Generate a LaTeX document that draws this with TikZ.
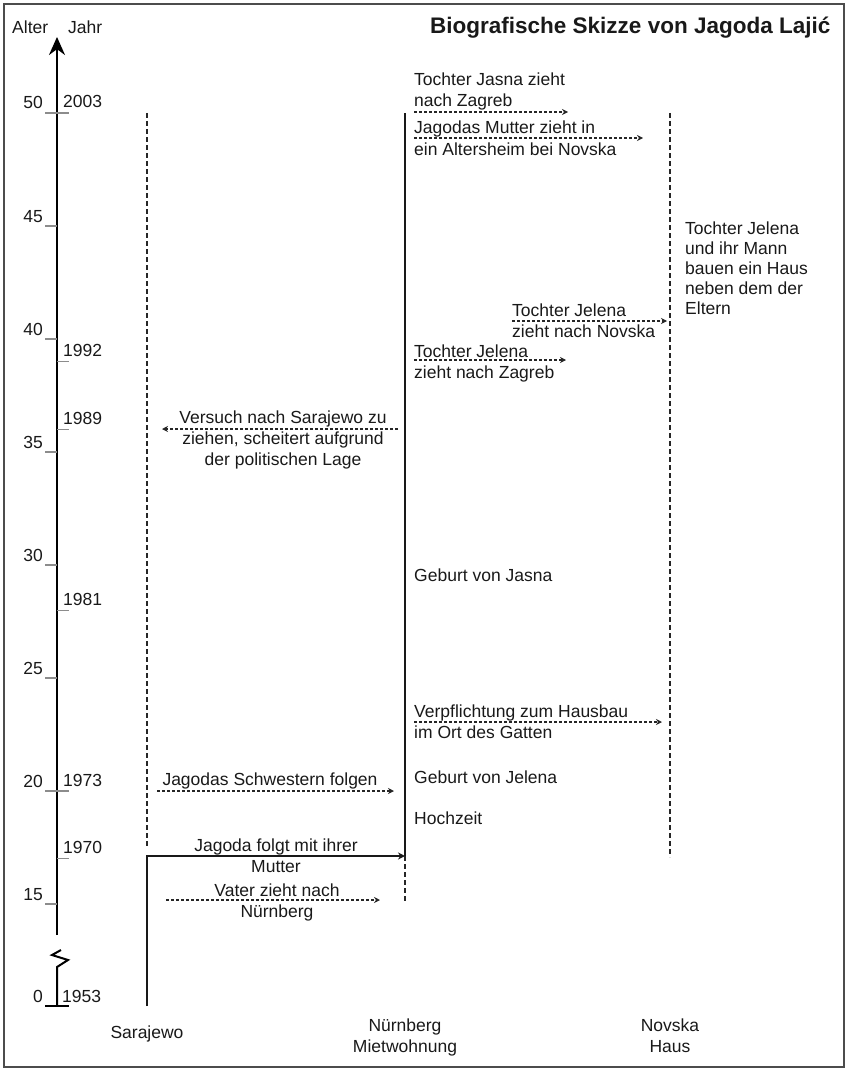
\documentclass[tikz,border=0pt]{standalone}
\usepackage{fontspec}
\setmainfont{Liberation Sans}
\usetikzlibrary{arrows.meta}

\begin{document}
\begin{tikzpicture}[x=1pt,y=-1pt,>=Stealth,
  every node/.style={inner sep=0pt,font=\fontsize{17.5}{21}\selectfont,text=black!90},
  lbl/.style={anchor=base west,align=left},
  clbl/.style={anchor=base,align=center},
  tickline/.style={black!45,line width=1.2pt},
  lifeline/.style={line width=1.7pt,black!90},
  absent/.style={line width=1.5pt,black!85,dash pattern=on 5pt off 3pt},
  move/.style={-{Stealth[length=6pt,width=6pt]},line width=1.1pt,black!85,
    dash pattern=on 3pt off 2pt}]
  \useasboundingbox (0,0) rectangle (846,1070);
  \draw[line width=2.5pt,black!70] (4,4) rectangle (844,1067);

  % time axis
  \coordinate (axTop) at (57,37);
  \coordinate (axBreak) at (57,935);
  \coordinate (axLow) at (57,967);
  \coordinate (axZero) at (57,1006);
  \draw[line width=2pt,-{Stealth[length=18pt,width=16pt]}] (axBreak) -- (axTop);
  \draw[line width=2pt] (61,950) -- (52,955) -- (68,960) -- (axLow) -- (axZero);
  \draw[line width=2pt] (45,1006) -- (69,1006);
  \node[anchor=base west] (alter) at (12,34) {Alter};
  \node[anchor=base west] (jahr) at (68,34) {Jahr};
  \node[anchor=base west,font=\bfseries\fontsize{22.5}{26}\selectfont] (title) at (430,34)
    {Biografische Skizze von Jagoda Lajić};
  \foreach \a in {15,20,...,50} {
    \draw[tickline] (45,{113+(50-\a)*22.6}) -- (57,{113+(50-\a)*22.6});
    \node[anchor=base east] (age\a) at (43,{109+(50-\a)*22.6}) {\a};
  }
  \foreach \yr/\ag in {2003/50,1992/39,1989/36,1981/28,1973/20,1970/17} {
    \draw[tickline] (57,{113+(50-\ag)*22.6}) -- (69,{113+(50-\ag)*22.6});
    \node[anchor=base west] (yr\yr) at (63,{108+(50-\ag)*22.6}) {\yr};
  }
  \node[anchor=base east] (age0) at (43,1002) {0};
  \node[anchor=base west] (yr1953) at (62,1002) {1953};

  % places
  \coordinate (sar) at (147,113);
  \coordinate (sarEnd) at (147,847);
  \coordinate (sarBot) at (147,1006);
  \coordinate (nue) at (405,113);
  \coordinate (nueMove) at (405,856);
  \coordinate (nueBot) at (405,902);
  \coordinate (nov) at (670,113);
  \coordinate (novBot) at (670,857);
  \draw[absent] (sar) -- (sarEnd);
  \draw[lifeline,-{Stealth[length=7pt,width=7pt]}] (sarBot) |- (nueMove);
  \draw[lifeline] (nueMove) -- (nue);
  \draw[absent] (nueMove) -- (nueBot);
  \draw[absent] (nov) -- (novBot);
  \node[clbl] (sarLbl) at (147,1038) {Sarajewo};
  \node[clbl] (nueLbl) at (405,1052) {Nürnberg\\Mietwohnung};
  \node[clbl] (novLbl) at (670,1052) {Novska\\Haus};

  % events (multi-line nodes sit on the baseline of their last line)
  \node[lbl] (jasnaZag) at (414,107) {Tochter Jasna zieht\\nach Zagreb};
  \node[lbl] (mutter) at (414,155) {Jagodas Mutter zieht in\\ein Altersheim bei Novska};
  \node[lbl,font=\fontsize{17.5}{20}\selectfont] (hausbau) at (685,314)
    {Tochter Jelena\\und ihr Mann\\bauen ein Haus\\neben dem der\\Eltern};
  \node[lbl] (jelNov) at (512,337) {Tochter Jelena\\zieht nach Novska};
  \node[lbl] (jelZag) at (414,378) {Tochter Jelena\\zieht nach Zagreb};
  \node[clbl] (versuch) at (283,465) {Versuch nach Sarajewo zu\\ziehen, scheitert aufgrund\\der politischen Lage};
  \node[lbl] (gebJasna) at (414,581) {Geburt von Jasna};
  \node[lbl] (pflicht) at (414,738) {Verpflichtung zum Hausbau\\im Ort des Gatten};
  \node[lbl] (gebJelena) at (414,783) {Geburt von Jelena};
  \node[lbl] (hochzeit) at (414,824) {Hochzeit};
  \node[clbl] (schwestern) at (270,785) {Jagodas Schwestern folgen};
  \node[clbl] (folgt) at (276,872) {Jagoda folgt mit ihrer\\Mutter};
  \node[clbl] (vater) at (277,917) {Vater zieht nach\\Nürnberg};

  \coordinate (m1a) at (414,112); \coordinate (m1b) at (568,112);
  \coordinate (m2a) at (414,138); \coordinate (m2b) at (643,138);
  \coordinate (m3a) at (512,321); \coordinate (m3b) at (667,321);
  \coordinate (m4a) at (414,360); \coordinate (m4b) at (566,360);
  \coordinate (m5a) at (398,429); \coordinate (m5b) at (162,429);
  \coordinate (m6a) at (414,722); \coordinate (m6b) at (662,722);
  \coordinate (m7a) at (157,791); \coordinate (m7b) at (394,791);
  \coordinate (m8a) at (166,900); \coordinate (m8b) at (380,900);
  \foreach \m in {1,...,8}
    \draw[move] (m\m a) -- (m\m b);
\end{tikzpicture}
\end{document}
